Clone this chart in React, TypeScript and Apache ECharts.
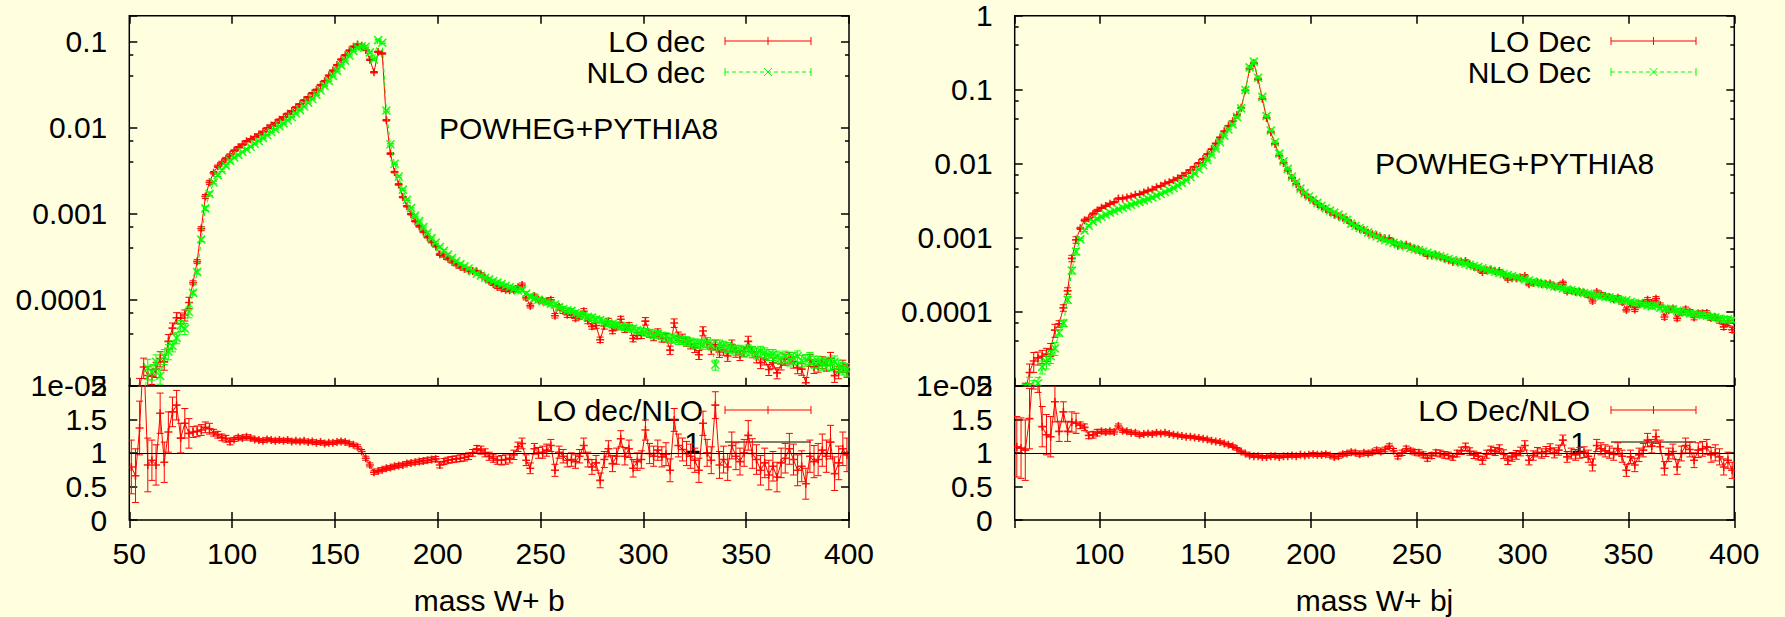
import React, { useEffect, useRef } from "react";
import * as echarts from "echarts";

// ---------------- DATA ----------------
// 2 GeV bins; bin centres start at these values
const binWidth = 2;
const binStartB = 51; // mass W+ b : 51 .. 399
const binStartBj = 61; // mass W+ bj : 61 .. 399

// NLO dec, mass W+ b
const nloB = [
  5e-6, 6e-6, 7e-6, 6.6e-6, 1.6e-5, 1.45e-5, 1.9e-5, 1.3e-5, 2.2e-5, 2.5e-5,
  2.9e-5, 3.6e-5, 5.0e-5, 4.6e-5, 7.2e-5, 1.2e-4, 2.1e-4, 5.0e-4, 1.15e-3, 1.7e-3,
  2.3e-3, 2.8e-3, 3.2e-3, 3.6e-3, 4.1e-3,
  4.5e-3, 4.8e-3, 5.2e-3, 5.6e-3, 6.0e-3, 6.5e-3, 7.0e-3, 7.6e-3, 8.2e-3, 8.9e-3,
  9.6e-3, 1.04e-2, 1.12e-2, 1.22e-2, 1.33e-2, 1.46e-2, 1.6e-2, 1.76e-2, 1.95e-2, 2.15e-2,
  2.4e-2, 2.7e-2, 3.05e-2, 3.5e-2, 4.0e-2, 4.6e-2, 5.3e-2, 6.0e-2, 6.9e-2, 7.8e-2,
  8.5e-2, 8.8e-2, 8.7e-2, 7.5e-2, 6.2e-2, 0.104, 0.097, 1.58e-2, 6.4e-3, 3.8e-3,
  2.7e-3, 1.9e-3, 1.45e-3, 1.16e-3, 9.5e-4, 8.2e-4, 7.0e-4, 6.0e-4, 5.2e-4, 4.6e-4,
  4.1e-4, 3.7e-4, 3.35e-4, 3.05e-4, 2.8e-4, 2.6e-4, 2.45e-4, 2.3e-4, 2.15e-4, 2.0e-4,
  1.9e-4, 1.8e-4, 1.72e-4, 1.65e-4, 1.58e-4, 1.52e-4, 1.45e-4, 1.4e-4, 1.34e-4, 1.28e-4,
  1.3e-4, 1.18e-4, 1.1e-4, 1.04e-4, 1.0e-4, 9.6e-5, 9.3e-5, 9.0e-5, 8.8e-5, 8.2e-5,
  7.8e-5, 7.5e-5, 7.4e-5, 7.0e-5, 6.7e-5, 6.6e-5, 6.3e-5, 6.2e-5, 5.9e-5, 5.8e-5,
  5.5e-5, 5.3e-5, 5.2e-5, 5.1e-5, 4.9e-5, 4.8e-5, 4.7e-5, 4.6e-5, 4.4e-5, 4.3e-5,
  4.2e-5, 4.1e-5, 3.9e-5, 4.0e-5, 3.8e-5, 3.7e-5, 3.5e-5, 3.6e-5, 3.4e-5, 3.4e-5,
  3.3e-5, 3.2e-5, 3.1e-5, 3.1e-5, 3.0e-5, 3.2e-5, 3.0e-5, 1.75e-5, 3.0e-5, 2.9e-5,
  2.8e-5, 2.7e-5, 2.6e-5, 2.6e-5, 2.5e-5, 2.6e-5, 2.5e-5, 2.4e-5, 2.5e-5, 2.4e-5,
  2.3e-5, 2.3e-5, 2.2e-5, 2.1e-5, 2.2e-5, 2.0e-5, 2.1e-5, 2.2e-5, 1.95e-5, 2.0e-5,
  2.1e-5, 1.9e-5, 1.9e-5, 1.8e-5, 1.85e-5, 1.8e-5, 1.9e-5, 1.7e-5, 1.6e-5, 1.55e-5,
];

// LO dec / NLO, mass W+ b
const ratioB = [
  0.79, 0.66, 1.37, 2.5, 0.82, 0.89, 0.82, 1.59, 0.86, 1.31,
  1.61, 1.71, 1.22, 1.44, 1.29, 1.31, 1.32, 1.34, 1.38, 1.36,
  1.3, 1.27, 1.23, 1.21, 1.17,
  1.2, 1.23, 1.22, 1.24, 1.22, 1.2, 1.19, 1.18, 1.2, 1.19,
  1.18, 1.19, 1.18, 1.19, 1.17, 1.18, 1.17, 1.18, 1.16, 1.17,
  1.15, 1.16, 1.14, 1.15, 1.15, 1.16, 1.17, 1.16, 1.14, 1.12,
  1.09, 1.02, 0.92, 0.82, 0.71, 0.73, 0.75, 0.77, 0.78, 0.8,
  0.81, 0.82, 0.84, 0.85, 0.86, 0.87, 0.88, 0.89, 0.9, 0.91,
  0.82, 0.87, 0.89, 0.9, 0.91, 0.92, 0.93, 0.95, 1.0, 1.06,
  1.04, 1.0, 0.95, 0.92, 0.89, 0.89, 0.9, 0.92, 0.97, 1.09,
  1.14, 0.89, 0.77, 1.06, 1.0, 1.01, 1.04, 1.11, 0.74, 1.01,
  0.95, 0.89, 0.9, 0.87, 0.95, 1.11, 0.9, 0.79, 0.85, 0.59,
  0.9, 1.06, 0.84, 0.95, 1.21, 0.95, 1.06, 0.77, 0.87, 0.9,
  1.34, 0.99, 0.95, 1.04, 0.94, 0.98, 0.74, 1.49, 1.11, 1.05,
  0.99, 0.95, 0.89, 0.74, 1.44, 1.0, 0.89, 1.71, 0.82, 0.9,
  0.79, 1.11, 0.95, 0.87, 1.0, 1.26, 0.99, 0.9, 0.74, 0.85,
  0.67, 0.8, 0.64, 0.85, 0.92, 1.06, 0.9, 0.74, 0.8, 0.54,
  0.95, 0.87, 0.9, 1.04, 0.95, 1.16, 0.69, 0.85, 1.06, 0.97,
];

// ratio uncertainty per 10 GeV block (50-60, 60-70, ...), mass W+ b
const ratioErrB = [
  0.4, 0.3, 0.22, 0.08, 0.05, 0.03, 0.025, 0.025, 0.025, 0.025,
  0.025, 0.03, 0.03, 0.03, 0.035, 0.045, 0.05, 0.06, 0.07, 0.08,
  0.09, 0.1, 0.11, 0.12, 0.13, 0.15, 0.17, 0.18, 0.2, 0.2,
  0.22, 0.22, 0.23, 0.24, 0.25,
];
const errBlockStartB = 50;

// NLO Dec, mass W+ bj
const nloBj = [
  5e-6, 6e-6, 8e-6, 1.0e-5, 9e-6, 1.08e-5, 1.8e-5, 2.1e-5, 2.5e-5, 3.2e-5,
  5.2e-5, 7.0e-5, 1.45e-4, 3.6e-4, 6.5e-4, 9.5e-4, 1.25e-3, 1.45e-3, 1.65e-3, 1.8e-3,
  1.92e-3, 2.05e-3, 2.18e-3, 2.3e-3, 2.42e-3, 2.55e-3, 2.65e-3, 2.78e-3, 2.92e-3, 3.05e-3,
  3.2e-3, 3.35e-3, 3.5e-3, 3.7e-3, 3.9e-3, 4.15e-3, 4.4e-3, 4.7e-3, 5.05e-3, 5.5e-3,
  6.0e-3, 6.6e-3, 7.4e-3, 8.4e-3, 9.6e-3, 1.12e-2, 1.33e-2, 1.6e-2, 1.95e-2, 2.4e-2,
  2.9e-2, 3.4e-2, 4.3e-2, 5.6e-2, 0.099, 0.2, 0.24, 0.145, 0.08, 0.044,
  0.028, 0.0195, 0.0137, 0.0108, 8.5e-3, 6.7e-3, 5.6e-3, 4.6e-3, 4.0e-3, 3.6e-3,
  3.25e-3, 2.95e-3, 2.7e-3, 2.5e-3, 2.32e-3, 2.18e-3, 2.05e-3, 1.9e-3, 1.75e-3, 1.55e-3,
  1.45e-3, 1.35e-3, 1.27e-3, 1.18e-3, 1.1e-3, 1.04e-3, 9.8e-4, 9.3e-4, 8.9e-4, 8.5e-4,
  8.2e-4, 7.9e-4, 7.6e-4, 7.3e-4, 7.0e-4, 6.8e-4, 6.5e-4, 6.25e-4, 6.0e-4, 5.8e-4,
  5.6e-4, 5.4e-4, 5.15e-4, 5.0e-4, 4.8e-4, 4.6e-4, 4.45e-4, 4.3e-4, 4.15e-4, 4.0e-4,
  3.85e-4, 3.7e-4, 3.58e-4, 3.46e-4, 3.35e-4, 3.23e-4, 3.12e-4, 3.02e-4, 2.92e-4, 2.83e-4,
  2.73e-4, 2.64e-4, 2.55e-4, 2.47e-4, 2.4e-4, 2.33e-4, 2.26e-4, 2.2e-4, 2.14e-4, 2.07e-4,
  2.0e-4, 1.95e-4, 1.9e-4, 1.84e-4, 1.79e-4, 1.75e-4, 1.7e-4, 1.66e-4, 1.62e-4, 1.58e-4,
  1.57e-4, 1.5e-4, 1.46e-4, 1.42e-4, 1.43e-4, 1.35e-4, 1.31e-4, 1.31e-4, 1.25e-4, 1.22e-4,
  1.19e-4, 1.21e-4, 1.13e-4, 1.1e-4, 1.08e-4, 1.08e-4, 1.03e-4, 1.0e-4, 9.7e-5, 9.5e-5,
  9.4e-5, 9.1e-5, 9.0e-5, 8.8e-5, 8.5e-5, 8.4e-5, 8.1e-5, 7.9e-5, 7.9e-5, 7.7e-5,
];

// LO Dec / NLO, mass W+ bj
const ratioBj = [
  1.09, 1.07, 1.04, 1.51, 2.4, 2.2, 1.39, 1.27, 1.24, 1.76,
  1.32, 1.61, 1.32, 1.46, 1.44, 1.41, 1.38, 1.26, 1.27, 1.3,
  1.32, 1.31, 1.32, 1.31, 1.4, 1.33, 1.32, 1.3, 1.3, 1.27,
  1.28, 1.29, 1.28, 1.3, 1.29, 1.3, 1.28, 1.27, 1.26, 1.25,
  1.24, 1.24, 1.23, 1.22, 1.21, 1.2, 1.18, 1.17, 1.16, 1.14,
  1.12, 1.1, 1.06, 1.02, 0.99, 0.96, 0.95, 0.95, 0.94, 0.94,
  0.95, 0.95, 0.94, 0.95, 0.95, 0.96, 0.95, 0.97, 0.96, 0.97,
  0.98, 0.97, 0.97, 0.98, 0.96, 0.94, 0.95, 0.98, 0.99, 1.01,
  1.0, 0.98, 1.0, 0.99, 1.01, 1.04, 1.02, 1.05, 1.1, 1.03,
  0.95, 1.0, 1.06, 1.03, 1.01, 1.0, 0.97, 0.92, 0.96, 1.0,
  0.99, 0.97, 0.96, 0.94, 0.99, 1.03, 1.09, 1.02, 0.97, 0.95,
  0.89, 0.98, 1.04, 1.02, 1.06, 0.98, 0.89, 0.94, 0.97, 1.02,
  1.11, 0.89, 0.96, 1.01, 0.99, 1.02, 1.06, 1.0, 1.04, 1.19,
  0.94, 0.99, 0.97, 1.0, 1.01, 0.95, 0.82, 1.11, 1.06, 1.03,
  1.01, 0.98, 1.06, 0.95, 0.74, 0.94, 0.82, 0.97, 1.04, 1.19,
  1.1, 1.24, 1.09, 0.77, 0.97, 1.02, 0.79, 0.99, 1.11, 1.05,
  0.89, 1.04, 1.06, 1.09, 0.97, 1.0, 0.94, 0.79, 0.89, 0.74,
];

// ratio uncertainty per 10 GeV block (60-70, 70-80, ...), mass W+ bj
const ratioErrBj = [
  0.45, 0.3, 0.15, 0.05, 0.03, 0.025, 0.02, 0.02, 0.02, 0.02,
  0.02, 0.02, 0.02, 0.02, 0.025, 0.03, 0.03, 0.035, 0.04, 0.045,
  0.05, 0.055, 0.06, 0.065, 0.07, 0.075, 0.08, 0.09, 0.09, 0.1,
  0.1, 0.11, 0.11, 0.12,
];
const errBlockStartBj = 60;

const logTickLabels = ["1e-05", "0.0001", "0.001", "0.01", "0.1", "1"];

// ---------------- STYLE ----------------
const FONT = '"Liberation Sans", Arial, Helvetica, sans-serif';
const FS = 30;
const BG = "#ffffe0";
const RED = "#ff0000";
const GREEN = "#00ff00";
const BLACK = "#000000";

const L = { x0: 129.3, x1: 849, top: 15.7, mid: 385.7, bot: 520 };
const R = { x0: 1014.7, x1: 1734.3, top: 15.7, mid: 385.7, bot: 520 };

function logFmt(v: number) {
  const l = Math.log10(v);
  const e = Math.round(l);
  if (Math.abs(l - e) > 1e-6) return "";
  return logTickLabels[e + 5] ?? "";
}

function errRender(kind: "plus" | "cross", color: string) {
  return (_params: any, api: any) => {
    const x = api.value(0);
    const y = api.value(1);
    const lo = api.value(2);
    const hi = api.value(3);
    const p = api.coord([x, y]);
    const a = api.coord([x, lo]);
    const b = api.coord([x, hi]);
    const cap = 3.5;
    const m = 4;
    const s = { stroke: color, lineWidth: 1 };
    const ms = { stroke: color, lineWidth: 1.6, opacity: 0.9 };
    const children: any[] = [
      { type: "line", shape: { x1: p[0], y1: a[1], x2: p[0], y2: b[1] }, style: s },
      { type: "line", shape: { x1: p[0] - cap, y1: a[1], x2: p[0] + cap, y2: a[1] }, style: s },
      { type: "line", shape: { x1: p[0] - cap, y1: b[1], x2: p[0] + cap, y2: b[1] }, style: s },
    ];
    if (kind === "plus") {
      children.push({ type: "line", shape: { x1: p[0] - m, y1: p[1], x2: p[0] + m, y2: p[1] }, style: ms });
      children.push({ type: "line", shape: { x1: p[0], y1: p[1] - m, x2: p[0], y2: p[1] + m }, style: ms });
    } else {
      children.push({ type: "line", shape: { x1: p[0] - m, y1: p[1] - m, x2: p[0] + m, y2: p[1] + m }, style: ms });
      children.push({ type: "line", shape: { x1: p[0] - m, y1: p[1] + m, x2: p[0] + m, y2: p[1] - m }, style: ms });
    }
    return { type: "group", children };
  };
}

const tickLine = { color: BLACK, width: 1.5 };

function xAxesFor(grid: number, min: number, max: number, labels: boolean, showMin: boolean) {
  const base: any = {
    type: "value",
    gridIndex: grid,
    min,
    max,
    minInterval: 50,
    maxInterval: 50,
    splitLine: { show: false },
    axisLine: { show: false },
    axisTick: { show: true, inside: true, length: 8, lineStyle: tickLine },
  };
  return [
    {
      ...base,
      position: "bottom",
      axisLabel: labels
        ? { show: true, color: BLACK, fontSize: FS, fontFamily: FONT, margin: 18, showMinLabel: showMin, showMaxLabel: true }
        : { show: false },
    },
    { ...base, position: "top", axisLabel: { show: false } },
  ];
}

function yLogAxesFor(grid: number, max: number) {
  const base: any = {
    type: "log",
    logBase: 10,
    gridIndex: grid,
    min: 1e-5,
    max,
    splitLine: { show: false },
    axisLine: { show: false },
    axisTick: { show: true, inside: true, length: 8, lineStyle: tickLine },
    minorTick: { show: true, splitNumber: 3, length: 4, lineStyle: tickLine },
    minorSplitLine: { show: false },
  };
  return [
    {
      ...base,
      position: "left",
      axisLabel: { show: true, color: BLACK, fontSize: FS, fontFamily: FONT, margin: 22, formatter: logFmt },
    },
    { ...base, position: "right", axisLabel: { show: false } },
  ];
}

function yRatioAxesFor(grid: number) {
  const base: any = {
    type: "value",
    gridIndex: grid,
    min: 0,
    max: 2,
    interval: 0.5,
    splitLine: { show: false },
    axisLine: { show: false },
    axisTick: { show: true, inside: true, length: 8, lineStyle: tickLine },
  };
  return [
    { ...base, position: "left", axisLabel: { show: true, color: BLACK, fontSize: FS, fontFamily: FONT, margin: 22 } },
    { ...base, position: "right", axisLabel: { show: false } },
  ];
}

function panelSeries(
  topGrid: number,
  ratioGrid: number,
  start: number,
  nlo: number[],
  ratio: number[],
  errs: number[],
  blockStart: number
) {
  const masses = nlo.map((_, i) => start + i * binWidth);
  const err = masses.map((m) => errs[Math.min(errs.length - 1, Math.floor((m - blockStart) / 10))]);
  const rel = err.map((e) => Math.min(0.6, e / 1.5));
  const lo = nlo.map((v, i) => v * ratio[i]);
  const loLine = masses.map((m, i) => [m, lo[i]]);
  const nloLine = masses.map((m, i) => [m, nlo[i]]);
  const loBars = masses.map((m, i) => [m, lo[i], lo[i] * (1 - rel[i]), lo[i] * (1 + rel[i])]);
  const nloBars = masses.map((m, i) => [m, nlo[i], nlo[i] * (1 - rel[i]), nlo[i] * (1 + rel[i])]);
  const rLine = masses.map((m, i) => [m, ratio[i]]);
  const rBars = masses.map((m, i) => [m, ratio[i], ratio[i] - err[i], ratio[i] + err[i]]);
  const tx = 2 * topGrid;
  const rx = 2 * ratioGrid;
  return [
    {
      type: "line", xAxisIndex: tx, yAxisIndex: tx, data: loLine, symbol: "none", clip: true,
      lineStyle: { color: RED, width: 1 }, z: 2, silent: true,
    },
    {
      type: "custom", xAxisIndex: tx, yAxisIndex: tx, data: loBars, encode: { x: 0, y: 1 },
      renderItem: errRender("plus", RED), clip: true, z: 3, silent: true,
    },
    {
      type: "line", xAxisIndex: tx, yAxisIndex: tx, data: nloLine, symbol: "none", clip: true,
      lineStyle: { color: GREEN, width: 1, type: [4, 3] }, z: 4, silent: true,
    },
    {
      type: "custom", xAxisIndex: tx, yAxisIndex: tx, data: nloBars, encode: { x: 0, y: 1 },
      renderItem: errRender("cross", GREEN), clip: true, z: 5, silent: true,
    },
    {
      type: "line", xAxisIndex: rx, yAxisIndex: rx, data: rLine, symbol: "none", clip: true,
      lineStyle: { color: RED, width: 1 }, z: 3, silent: true,
      markLine: {
        silent: true, symbol: "none", label: { show: false },
        lineStyle: { color: BLACK, width: 1, type: "solid" },
        data: [{ yAxis: 1 }],
      },
    },
    {
      type: "custom", xAxisIndex: rx, yAxisIndex: rx, data: rBars, encode: { x: 0, y: 1 },
      renderItem: errRender("plus", RED), clip: true, z: 4, silent: true,
    },
  ];
}

function txt(text: string, x: number, y: number, align: string) {
  return {
    type: "text",
    x,
    y,
    style: {
      text,
      fill: BLACK,
      fontSize: FS,
      fontFamily: FONT,
      align,
      verticalAlign: "middle",
      textAlign: align,
      textVerticalAlign: "middle",
    },
    silent: true,
  };
}

function seg(x1: number, y1: number, x2: number, y2: number, color: string, dash?: number[]) {
  return {
    type: "line",
    shape: { x1, y1, x2, y2 },
    style: { stroke: color, lineWidth: 1, lineDash: dash },
    silent: true,
  };
}

function sample(x1: number, x2: number, y: number, color: string, kind: "plus" | "cross" | "none", dash?: number[]) {
  const mid = (x1 + x2) / 2;
  const out: any[] = [seg(x1, y, x2, y, color, dash)];
  if (kind !== "none") {
    out.push(seg(x1, y - 4, x1, y + 4, color));
    out.push(seg(x2, y - 4, x2, y + 4, color));
  }
  if (kind === "plus") out.push(seg(mid, y - 4, mid, y + 4, color));
  if (kind === "cross") {
    out.push(seg(mid - 4, y - 4, mid + 4, y + 4, color));
    out.push(seg(mid - 4, y + 4, mid + 4, y - 4, color));
  }
  return out;
}

function legendGraphics() {
  const g: any[] = [];
  // left panel
  g.push(txt("LO dec", 705, 41, "right"));
  g.push(...sample(725, 811, 41, RED, "plus"));
  g.push(txt("NLO dec", 705, 72, "right"));
  g.push(...sample(725, 811, 72, GREEN, "cross", [4, 3]));
  g.push(txt("POWHEG+PYTHIA8", 439, 128, "left"));
  g.push(txt("LO dec/NLO", 703, 410, "right"));
  g.push(...sample(725, 811, 410, RED, "plus"));
  g.push(txt("1", 701, 442, "right"));
  g.push(...sample(725, 811, 442, BLACK, "none"));
  g.push(txt("mass W+ b", (L.x0 + L.x1) / 2, 600, "center"));
  // right panel
  g.push(txt("LO Dec", 1591, 41, "right"));
  g.push(...sample(1611, 1696, 41, RED, "plus"));
  g.push(txt("NLO Dec", 1591, 72, "right"));
  g.push(...sample(1611, 1696, 72, GREEN, "cross", [4, 3]));
  g.push(txt("POWHEG+PYTHIA8", 1375, 163, "left"));
  g.push(txt("LO Dec/NLO", 1590, 410, "right"));
  g.push(...sample(1611, 1696, 410, RED, "plus"));
  g.push(txt("1", 1587, 442, "right"));
  g.push(...sample(1611, 1696, 442, BLACK, "none"));
  g.push(txt("mass W+ bj", (R.x0 + R.x1) / 2, 600, "center"));
  return g;
}

function buildOption() {
  const gridStyle = { show: true, borderColor: BLACK, borderWidth: 1.5, backgroundColor: "transparent" };
  const grids = [
    { ...gridStyle, left: L.x0, top: L.top, width: L.x1 - L.x0, height: L.mid - L.top },
    { ...gridStyle, left: L.x0, top: L.mid, width: L.x1 - L.x0, height: L.bot - L.mid },
    { ...gridStyle, left: R.x0, top: R.top, width: R.x1 - R.x0, height: R.mid - R.top },
    { ...gridStyle, left: R.x0, top: R.mid, width: R.x1 - R.x0, height: R.bot - R.mid },
  ];
  const xAxis = [
    ...xAxesFor(0, 50, 400, false, true),
    ...xAxesFor(1, 50, 400, true, true),
    ...xAxesFor(2, 60, 400, false, false),
    ...xAxesFor(3, 60, 400, true, false),
  ];
  const yAxis = [
    ...yLogAxesFor(0, 0.2),
    ...yRatioAxesFor(1),
    ...yLogAxesFor(2, 1),
    ...yRatioAxesFor(3),
  ];
  const series = [
    ...panelSeries(0, 1, binStartB, nloB, ratioB, ratioErrB, errBlockStartB),
    ...panelSeries(2, 3, binStartBj, nloBj, ratioBj, ratioErrBj, errBlockStartBj),
  ];
  return {
    animation: false,
    backgroundColor: BG,
    textStyle: { fontFamily: FONT },
    grid: grids,
    xAxis,
    yAxis,
    series,
    graphic: { elements: legendGraphics() },
  };
}

export default function App() {
  const ref = useRef<HTMLDivElement | null>(null);
  useEffect(() => {
    document.body.style.margin = "0";
    if (!ref.current) return;
    const chart = echarts.init(ref.current, undefined, { renderer: "svg" });
    chart.setOption(buildOption() as any);
    return () => {
      chart.dispose();
    };
  }, []);
  return (
    <div
      ref={ref}
      style={{ position: "absolute", left: 0, top: 0, width: 1785, height: 617, background: BG }}
    />
  );
}
